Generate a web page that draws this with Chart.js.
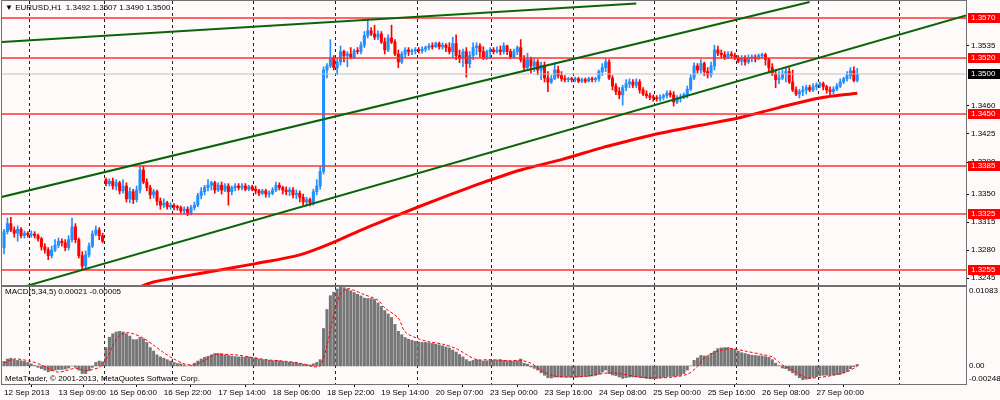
<!DOCTYPE html>
<html>
<head>
<meta charset="utf-8">
<script src="https://cdn.jsdelivr.net/npm/chart.js@4.4.0/dist/chart.umd.min.js"></script>
<style>
  body { margin: 0; background: #fffafa; }
  #wrap { position: relative; width: 1000px; height: 400px; }
  canvas { position: absolute; left: 0; }
  #main { top: 0; }
  #macd { top: 286px; }
</style>
</head>
<body>
<div id="wrap">
  <canvas id="main" width="1000" height="286"></canvas>
  <canvas id="macd" width="1000" height="114"></canvas>
</div>
<script>
// EURUSD H1 candles, one entry per bar (12 Sep 2013 16:00 .. 27 Sep 2013)
const opens = [
  1.3283,1.3303,1.3313,1.3305,1.3301,1.3306,1.3298,1.3301,1.3299,1.3300,
  1.3298,1.3294,1.3284,1.3280,1.3273,1.3280,1.3286,1.3291,1.3289,1.3283,
  1.3293,1.3309,1.3293,1.3273,1.3260,1.3274,1.3285,1.3300,1.3305,1.3298,
  1.3368,1.3363,1.3366,1.3360,1.3364,1.3354,1.3360,1.3344,1.3353,1.3343,
  1.3355,1.3380,1.3365,1.3358,1.3349,1.3353,1.3341,1.3336,1.3339,1.3334,
  1.3336,1.3334,1.3333,1.3329,1.3331,1.3326,1.3333,1.3336,1.3348,1.3353,
  1.3358,1.3361,1.3364,1.3355,1.3361,1.3355,1.3360,1.3353,1.3358,1.3360,
  1.3358,1.3360,1.3356,1.3359,1.3356,1.3354,1.3351,1.3354,1.3350,1.3351,
  1.3355,1.3361,1.3358,1.3355,1.3353,1.3355,1.3349,1.3351,1.3346,1.3340,
  1.3343,1.3339,1.3353,1.3360,1.3378,1.3505,1.3510,1.3520,1.3508,1.3515,
  1.3528,1.3523,1.3525,1.3521,1.3529,1.3528,1.3536,1.3548,1.3554,1.3550,
  1.3546,1.3550,1.3540,1.3530,1.3545,1.3540,1.3525,1.3515,1.3525,1.3530,
  1.3528,1.3529,1.3530,1.3529,1.3531,1.3533,1.3535,1.3534,1.3538,1.3534,
  1.3536,1.3533,1.3528,1.3538,1.3523,1.3520,1.3528,1.3513,1.3523,1.3533,
  1.3535,1.3528,1.3520,1.3528,1.3530,1.3528,1.3530,1.3528,1.3535,1.3528,
  1.3521,1.3528,1.3533,1.3518,1.3508,1.3518,1.3510,1.3515,1.3505,1.3511,
  1.3495,1.3490,1.3494,1.3505,1.3498,1.3494,1.3493,1.3494,1.3493,1.3494,
  1.3491,1.3493,1.3491,1.3494,1.3493,1.3494,1.3503,1.3508,1.3515,1.3495,
  1.3485,1.3478,1.3474,1.3483,1.3488,1.3490,1.3486,1.3490,1.3480,1.3475,
  1.3473,1.3471,1.3470,1.3469,1.3471,1.3473,1.3476,1.3474,1.3465,1.3470,
  1.3471,1.3474,1.3481,1.3495,1.3510,1.3505,1.3513,1.3503,1.3499,1.3510,
  1.3530,1.3526,1.3524,1.3520,1.3525,1.3523,1.3520,1.3516,1.3520,1.3515,
  1.3520,1.3521,1.3519,1.3523,1.3524,1.3518,1.3508,1.3500,1.3493,1.3495,
  1.3500,1.3503,1.3490,1.3480,1.3475,1.3478,1.3480,1.3483,1.3480,1.3484,
  1.3486,1.3488,1.3484,1.3480,1.3478,1.3481,1.3485,1.3490,1.3494,1.3498,
  1.3504,1.3492
];
const highs = [
  1.3306,1.3320,1.3321,1.3309,1.3310,1.3308,1.3304,1.3303,1.3304,1.3303,
  1.3300,1.3296,1.3288,1.3283,1.3285,1.3293,1.3295,1.3294,1.3293,1.3298,
  1.3320,1.3313,1.3295,1.3278,1.3279,1.3289,1.3304,1.3310,1.3308,1.3301,
  1.3370,1.3369,1.3370,1.3368,1.3366,1.3368,1.3364,1.3358,1.3356,1.3360,
  1.3385,1.3385,1.3369,1.3361,1.3356,1.3355,1.3345,1.3344,1.3341,1.3339,
  1.3338,1.3336,1.3335,1.3334,1.3334,1.3336,1.3340,1.3351,1.3358,1.3361,
  1.3368,1.3366,1.3366,1.3364,1.3365,1.3363,1.3363,1.3360,1.3363,1.3363,
  1.3363,1.3363,1.3361,1.3361,1.3360,1.3356,1.3356,1.3356,1.3354,1.3358,
  1.3365,1.3364,1.3360,1.3359,1.3358,1.3358,1.3355,1.3354,1.3350,1.3346,
  1.3345,1.3356,1.3368,1.3384,1.3509,1.3513,1.3543,1.3523,1.3519,1.3535,
  1.3530,1.3528,1.3533,1.3531,1.3533,1.3540,1.3553,1.3569,1.3558,1.3561,
  1.3554,1.3553,1.3545,1.3549,1.3561,1.3543,1.3530,1.3528,1.3533,1.3533,
  1.3531,1.3533,1.3533,1.3534,1.3535,1.3538,1.3539,1.3540,1.3540,1.3539,
  1.3538,1.3539,1.3546,1.3549,1.3530,1.3531,1.3533,1.3528,1.3539,1.3539,
  1.3538,1.3534,1.3530,1.3533,1.3533,1.3534,1.3535,1.3539,1.3536,1.3531,
  1.3531,1.3535,1.3543,1.3523,1.3526,1.3521,1.3519,1.3518,1.3515,1.3515,
  1.3503,1.3498,1.3514,1.3510,1.3503,1.3498,1.3496,1.3496,1.3496,1.3496,
  1.3495,1.3495,1.3496,1.3496,1.3496,1.3505,1.3513,1.3519,1.3518,1.3498,
  1.3488,1.3483,1.3486,1.3493,1.3494,1.3493,1.3494,1.3493,1.3483,1.3479,
  1.3476,1.3474,1.3473,1.3474,1.3475,1.3479,1.3479,1.3478,1.3473,1.3475,
  1.3476,1.3485,1.3499,1.3514,1.3513,1.3518,1.3515,1.3508,1.3515,1.3536,
  1.3535,1.3530,1.3528,1.3528,1.3528,1.3526,1.3523,1.3523,1.3523,1.3524,
  1.3524,1.3524,1.3525,1.3526,1.3526,1.3520,1.3513,1.3505,1.3503,1.3505,
  1.3508,1.3508,1.3505,1.3484,1.3481,1.3485,1.3486,1.3486,1.3488,1.3489,
  1.3490,1.3490,1.3486,1.3484,1.3484,1.3488,1.3494,1.3496,1.3503,1.3508,
  1.3509,1.3507
];
const lows = [
  1.3275,1.3300,1.3303,1.3296,1.3291,1.3295,1.3295,1.3296,1.3296,1.3295,
  1.3291,1.3280,1.3276,1.3268,1.3270,1.3278,1.3283,1.3285,1.3279,1.3280,
  1.3290,1.3289,1.3270,1.3255,1.3256,1.3271,1.3283,1.3298,1.3293,1.3289,
  1.3360,1.3360,1.3356,1.3355,1.3350,1.3351,1.3340,1.3339,1.3338,1.3340,
  1.3351,1.3363,1.3354,1.3344,1.3345,1.3336,1.3331,1.3333,1.3331,1.3331,
  1.3330,1.3330,1.3326,1.3325,1.3323,1.3324,1.3330,1.3334,1.3344,1.3349,
  1.3354,1.3355,1.3351,1.3353,1.3350,1.3353,1.3336,1.3349,1.3354,1.3355,
  1.3355,1.3354,1.3354,1.3354,1.3350,1.3348,1.3349,1.3346,1.3346,1.3349,
  1.3353,1.3355,1.3350,1.3349,1.3348,1.3345,1.3344,1.3340,1.3336,1.3335,
  1.3335,1.3336,1.3349,1.3356,1.3375,1.3495,1.3508,1.3505,1.3499,1.3511,
  1.3515,1.3509,1.3519,1.3519,1.3525,1.3525,1.3533,1.3545,1.3548,1.3543,
  1.3543,1.3538,1.3525,1.3528,1.3538,1.3523,1.3508,1.3513,1.3521,1.3523,
  1.3524,1.3525,1.3526,1.3526,1.3528,1.3530,1.3531,1.3533,1.3531,1.3531,
  1.3528,1.3525,1.3520,1.3518,1.3514,1.3509,1.3496,1.3508,1.3518,1.3524,
  1.3521,1.3518,1.3518,1.3519,1.3525,1.3526,1.3524,1.3525,1.3524,1.3519,
  1.3520,1.3524,1.3515,1.3505,1.3505,1.3501,1.3503,1.3499,1.3493,1.3490,
  1.3478,1.3488,1.3493,1.3495,1.3491,1.3490,1.3490,1.3490,1.3490,1.3489,
  1.3489,1.3489,1.3490,1.3490,1.3490,1.3491,1.3498,1.3503,1.3493,1.3480,
  1.3474,1.3469,1.3461,1.3479,1.3483,1.3483,1.3483,1.3476,1.3473,1.3470,
  1.3468,1.3466,1.3466,1.3466,1.3468,1.3470,1.3471,1.3460,1.3463,1.3465,
  1.3469,1.3470,1.3479,1.3493,1.3501,1.3501,1.3498,1.3495,1.3496,1.3505,
  1.3523,1.3520,1.3518,1.3519,1.3520,1.3518,1.3514,1.3511,1.3511,1.3513,
  1.3515,1.3515,1.3518,1.3520,1.3511,1.3503,1.3498,1.3483,1.3488,1.3493,
  1.3490,1.3488,1.3478,1.3473,1.3470,1.3473,1.3475,1.3478,1.3478,1.3480,
  1.3483,1.3480,1.3476,1.3474,1.3475,1.3479,1.3483,1.3488,1.3491,1.3494,
  1.3490,1.3490
];
const closes = [
  1.3303,1.3313,1.3305,1.3301,1.3306,1.3298,1.3301,1.3299,1.3300,1.3298,
  1.3294,1.3284,1.3280,1.3273,1.3280,1.3286,1.3291,1.3289,1.3283,1.3293,
  1.3309,1.3293,1.3273,1.3260,1.3274,1.3285,1.3300,1.3305,1.3298,1.3291,
  1.3363,1.3366,1.3360,1.3364,1.3354,1.3360,1.3344,1.3353,1.3343,1.3355,
  1.3380,1.3365,1.3358,1.3349,1.3353,1.3341,1.3336,1.3339,1.3334,1.3336,
  1.3334,1.3333,1.3329,1.3331,1.3326,1.3333,1.3336,1.3348,1.3353,1.3358,
  1.3361,1.3364,1.3355,1.3361,1.3355,1.3360,1.3353,1.3358,1.3360,1.3358,
  1.3360,1.3356,1.3359,1.3356,1.3354,1.3351,1.3354,1.3350,1.3351,1.3355,
  1.3361,1.3358,1.3355,1.3353,1.3355,1.3349,1.3351,1.3346,1.3340,1.3343,
  1.3339,1.3353,1.3360,1.3378,1.3505,1.3510,1.3520,1.3508,1.3515,1.3528,
  1.3523,1.3525,1.3521,1.3529,1.3528,1.3536,1.3548,1.3554,1.3550,1.3546,
  1.3550,1.3540,1.3530,1.3545,1.3540,1.3525,1.3515,1.3525,1.3530,1.3528,
  1.3529,1.3530,1.3529,1.3531,1.3533,1.3535,1.3534,1.3538,1.3534,1.3536,
  1.3533,1.3528,1.3538,1.3523,1.3520,1.3528,1.3513,1.3523,1.3533,1.3535,
  1.3528,1.3520,1.3528,1.3530,1.3528,1.3530,1.3528,1.3535,1.3528,1.3521,
  1.3528,1.3533,1.3518,1.3508,1.3518,1.3510,1.3515,1.3505,1.3511,1.3495,
  1.3490,1.3494,1.3505,1.3498,1.3494,1.3493,1.3494,1.3493,1.3494,1.3491,
  1.3493,1.3491,1.3494,1.3493,1.3494,1.3503,1.3508,1.3515,1.3495,1.3485,
  1.3478,1.3474,1.3483,1.3488,1.3490,1.3486,1.3490,1.3480,1.3475,1.3473,
  1.3471,1.3470,1.3469,1.3471,1.3473,1.3476,1.3474,1.3465,1.3470,1.3471,
  1.3474,1.3481,1.3495,1.3510,1.3505,1.3513,1.3503,1.3499,1.3510,1.3530,
  1.3526,1.3524,1.3520,1.3525,1.3523,1.3520,1.3516,1.3520,1.3515,1.3520,
  1.3521,1.3519,1.3523,1.3524,1.3518,1.3508,1.3500,1.3493,1.3495,1.3500,
  1.3503,1.3490,1.3480,1.3475,1.3478,1.3480,1.3483,1.3480,1.3484,1.3486,
  1.3488,1.3484,1.3480,1.3478,1.3481,1.3485,1.3490,1.3494,1.3498,1.3504,
  1.3492,1.3500
];

// moving average (red thick line), read at a few bars
const maBars   = [40, 44, 50, 58, 74, 87, 96, 105, 116, 128, 140, 152, 164, 176, 187, 193, 205, 216, 228, 240, 251];
const maValues = [1.3234, 1.3240, 1.3245, 1.3251, 1.3263, 1.3274, 1.3288, 1.3305, 1.3324, 1.3344, 1.3363,
                  1.3380, 1.3393, 1.3408, 1.3420, 1.3426, 1.3436, 1.3445, 1.3458, 1.3470, 1.3476];

// horizontal levels and trend lines drawn on the chart
const levels = [1.3570, 1.3520, 1.3450, 1.3385, 1.3325, 1.3255];
const trendBars   = [[-1, 186], [-1, 237], [0, 283]];
const trendPrices = [[1.3540, 1.3588], [1.3346, 1.3590], [1.3227, 1.3573]];

// price axis ticks
const priceTicks = [1.3535, 1.3460, 1.3425, 1.3390, 1.3350, 1.3315, 1.3280, 1.3245];

// MACD(5,34,5) histogram, one value per bar
const macdHist = [
  0.00062,0.00095,0.00105,0.00086,0.00076,0.00071,0.00062,0.00048,0.00029,0.00005,
  -0.00019,-0.00038,-0.00057,-0.00081,-0.00067,-0.00057,-0.00048,-0.00048,-0.00043,-0.00029,
  0,-0.00019,-0.00057,-0.00105,-0.00105,-0.00067,-0.00019,0.00048,0.00067,0.00057,
  0.00252,0.00394,0.00442,0.00466,0.00475,0.00466,0.00442,0.00409,0.00361,0.00361,
  0.00390,0.00371,0.00323,0.00252,0.00204,0.00152,0.00124,0.00105,0.00086,0.00067,
  0.00048,0.00033,0.00029,0.00014,0,0.00010,0.00038,0.00067,0.00095,0.00119,
  0.00133,0.00152,0.00171,0.00171,0.00166,0.00152,0.00143,0.00133,0.00128,0.00124,
  0.00124,0.00119,0.00124,0.00114,0.00109,0.00095,0.00086,0.00086,0.00076,0.00071,
  0.00076,0.00071,0.00062,0.00057,0.00052,0.00048,0.00043,0.00033,0.00024,0.00019,
  0.00014,0.00029,0.00048,0.00086,0.00513,0.00774,0.00964,0.01012,0.01055,0.01083,
  0.01074,0.01055,0.01031,0.01007,0.00983,0.00960,0.00931,0.00926,0.00926,0.00912,
  0.00865,0.00817,0.00760,0.00713,0.00665,0.00570,0.00475,0.00428,0.00390,0.00366,
  0.00352,0.00337,0.00328,0.00323,0.00323,0.00318,0.00309,0.00299,0.00290,0.00276,
  0.00261,0.00247,0.00219,0.00190,0.00157,0.00124,0.00086,0.00062,0.00076,0.00086,
  0.00076,0.00067,0.00071,0.00076,0.00076,0.00081,0.00086,0.00076,0.00071,0.00067,
  0.00067,0.00071,0.00095,0.00038,0.00024,-0.00014,-0.00033,-0.00057,-0.00095,-0.00128,
  -0.00162,-0.00166,-0.00152,-0.00152,-0.00152,-0.00152,-0.00152,-0.00152,-0.00152,-0.00152,
  -0.00147,-0.00143,-0.00143,-0.00138,-0.00128,-0.00114,-0.00086,-0.00057,-0.00105,-0.00124,
  -0.00133,-0.00152,-0.00171,-0.00162,-0.00152,-0.00152,-0.00152,-0.00157,-0.00162,-0.00171,
  -0.00176,-0.00176,-0.00171,-0.00162,-0.00157,-0.00147,-0.00143,-0.00143,-0.00138,-0.00128,
  -0.00105,-0.00057,0,0.00076,0.00109,0.00143,0.00138,0.00128,0.00171,0.00204,
  0.00238,0.00247,0.00252,0.00252,0.00238,0.00228,0.00204,0.00181,0.00171,0.00157,
  0.00147,0.00143,0.00138,0.00138,0.00128,0.00119,0.00086,0.00038,0.00005,-0.00029,
  -0.00038,-0.00067,-0.00095,-0.00128,-0.00162,-0.00190,-0.00181,-0.00171,-0.00157,-0.00147,
  -0.00133,-0.00128,-0.00128,-0.00128,-0.00124,-0.00119,-0.00114,-0.00095,-0.00076,-0.00038,
  -0.00010,0.00021
];
// MACD signal line (red dotted), read at a few bars
const signalBars = [0, 3, 8, 11, 14, 16, 18, 21, 24, 26, 28, 30, 32, 34, 36, 38, 41, 44, 47, 50,
  53, 56, 59, 62, 68, 72, 77, 82, 87, 91, 93, 95, 97, 99, 101, 103, 106, 110, 112, 116,
  118, 122, 125, 129, 133, 136, 139, 143, 149, 152, 155, 158, 161, 165, 171, 175, 178, 182, 187, 192,
  197, 201, 204, 206, 210, 214, 218, 223, 226, 229, 232, 236, 239, 244, 248, 251];
const signalValues = [0.00038, 0.00095, 0.00062, 0.00014, -0.00057, -0.00086, -0.00067, -0.00033, -0.00067, -0.00048,
  -0.00019, 0.00086, 0.00276, 0.00418, 0.00456, 0.00442, 0.00380, 0.00285, 0.00181, 0.00095,
  0.00029, 0.00014, 0.00076, 0.00152, 0.00152, 0.00124, 0.00086, 0.00067, 0.00038, -0.00010,
  0, 0.00276, 0.00703, 0.00988, 0.01059, 0.01036, 0.00979, 0.00903, 0.00798, 0.00656,
  0.00466, 0.00371, 0.00333, 0.00299, 0.00238, 0.00157, 0.00086, 0.00086, 0.00071, 0.00076,
  0.00038, -0.00057, -0.00128, -0.00152, -0.00143, -0.00114, -0.00095, -0.00114, -0.00152, -0.00166,
  -0.00152, -0.00114, -0.00010, 0.00109, 0.00204, 0.00238, 0.00204, 0.00157, 0.00124, 0.00014,
  -0.00057, -0.00162, -0.00162, -0.00128, -0.00081, -0.00005];
const macdTicks = [0.01083, 0, -0.00248];

// time axis
const timeLabels = ['12 Sep 2013', '13 Sep 09:00', '16 Sep 06:00', '16 Sep 22:00', '17 Sep 14:00',
  '18 Sep 06:00', '18 Sep 22:00', '19 Sep 14:00', '20 Sep 07:00', '23 Sep 00:00', '23 Sep 16:00',
  '24 Sep 08:00', '25 Sep 00:00', '25 Sep 16:00', '26 Sep 08:00', '27 Sep 00:00'];
const labelBars = [0, 16, 31, 47, 63, 79, 95, 111, 127, 143, 159, 175, 191, 207, 223, 239];
const gridBars = [7.5, 29.5, 49.5, 73.5, 97.5, 121.5, 143.5, 167.5, 191.5, 215.5, 239.5, 263.5];

const FONT_FAMILY = '"Liberation Sans", Arial, sans-serif';
const BULL = '#1e90ff';
const BEAR = '#ff0000';
const X_MIN = -0.6, X_MAX = 283;

Chart.defaults.font.family = FONT_FAMILY;
Chart.defaults.font.size = 8;
Chart.defaults.color = '#000';
Chart.defaults.animation = false;

const barIdx = closes.map((_, i) => i);
const last = closes.length - 1;
const candleColor = barIdx.map(i => closes[i] >= opens[i] ? BULL : BEAR);

// vertical dotted grid shared by both panels
function gridAxis(position) {
  return {
    type: 'linear', position: position, min: X_MIN, max: X_MAX, offset: false,
    afterBuildTicks: s => { s.ticks = gridBars.map(v => ({ value: v })); },
    ticks: { display: false },
    grid: { offset: false, color: '#202020', lineWidth: 1, drawTicks: false },
    border: { display: false, dash: [3, 3] }
  };
}

const frame = {
  id: 'frame',
  afterDraw(chart) {
    const { ctx, chartArea: a } = chart;
    ctx.save();
    ctx.strokeStyle = '#707070';
    ctx.lineWidth = 1;
    ctx.strokeRect(a.left - 0.5, a.top - 0.5, a.right - a.left + 1, a.bottom - a.top + 1);
    ctx.restore();
  }
};

const priceTags = {
  id: 'priceTags',
  afterDraw(chart) {
    const { ctx, chartArea: a, scales: { y } } = chart;
    ctx.save();
    ctx.font = '8px ' + FONT_FAMILY;
    ctx.textBaseline = 'middle';
    const tags = levels.map(v => [v, '#ff0000']).concat([[closes[last], '#000000']]);
    tags.forEach(([v, c]) => {
      const py = Math.round(y.getPixelForValue(v));
      ctx.fillStyle = c;
      ctx.fillRect(a.right + 2, py - 5, 33, 10);
      ctx.fillStyle = '#ffffff';
      ctx.fillText(v.toFixed(4), a.right + 5, py);
    });
    ctx.restore();
  }
};

const mainCaption = {
  id: 'mainCaption',
  afterDraw(chart) {
    const { ctx, chartArea: a } = chart;
    const ohlc = [opens[last], highs[last], lows[last], closes[last]].map(v => v.toFixed(4)).join(' ');
    ctx.save();
    ctx.font = '8px ' + FONT_FAMILY;
    ctx.fillStyle = '#000';
    ctx.textBaseline = 'middle';
    ctx.fillText('\u25BC EURUSD,H1  ' + ohlc, a.left + 3, a.top + 7);
    ctx.restore();
  }
};

const levelSets = levels.map(v => ({
  type: 'line', data: [{ x: X_MIN, y: v }, { x: X_MAX, y: v }],
  borderColor: '#ff3030', borderWidth: 1.5, pointRadius: 0, order: 3
}));
levelSets.push({
  type: 'line', data: [{ x: X_MIN, y: closes[last] }, { x: X_MAX, y: closes[last] }],
  borderColor: '#c0c0c0', borderWidth: 1, pointRadius: 0, order: 4
});
const trendSets = trendBars.map((b, k) => ({
  type: 'line', data: [{ x: b[0], y: trendPrices[k][0] }, { x: b[1], y: trendPrices[k][1] }],
  borderColor: '#0a640a', borderWidth: 2, pointRadius: 0, order: 2
}));

new Chart(document.getElementById('main'), {
  type: 'bar',
  data: {
    datasets: [
      {
        type: 'bar', data: barIdx.map(i => ({ x: i, y: [lows[i], highs[i]] })),
        backgroundColor: candleColor, barThickness: 1, grouped: false, order: 10
      },
      {
        type: 'bar', data: barIdx.map(i => ({ x: i, y: [opens[i], closes[i]] })),
        backgroundColor: candleColor, barThickness: 2.4, minBarLength: 1, grouped: false, order: 9
      },
      {
        type: 'line', data: maBars.map((b, k) => ({ x: b, y: maValues[k] })),
        borderColor: '#ff0000', borderWidth: 3, pointRadius: 0, tension: 0.3, order: 5
      },
      ...levelSets,
      ...trendSets
    ]
  },
  options: {
    responsive: false,
    layout: { padding: { left: 2, top: 1, right: 0, bottom: 1 } },
    plugins: { legend: { display: false }, tooltip: { enabled: false } },
    scales: {
      x: gridAxis('bottom'),
      y: {
        type: 'linear', position: 'right', min: 1.32363, max: 1.35912,
        afterBuildTicks: s => { s.ticks = priceTicks.map(v => ({ value: v })); },
        afterFit: s => { s.width = 34; s.paddingTop = 0; s.paddingBottom = 0; },
        ticks: { padding: 2, callback: v => v.toFixed(4) },
        grid: { drawOnChartArea: false, drawTicks: true, tickLength: 3, tickColor: '#000' },
        border: { display: false }
      }
    }
  },
  plugins: [frame, priceTags, mainCaption]
});

const macdAxisLabels = {
  id: 'macdAxisLabels',
  afterDraw(chart) {
    const { ctx, chartArea: a, scales: { y } } = chart;
    ctx.save();
    ctx.font = '8px ' + FONT_FAMILY;
    ctx.fillStyle = '#000';
    ctx.textBaseline = 'middle';
    macdTicks.forEach(v => {
      const py = Math.min(Math.max(y.getPixelForValue(v), a.top + 4), a.bottom - 5);
      ctx.fillText(v === 0 ? '0.00' : v.toFixed(5), a.right + 3, py);
    });
    ctx.restore();
  }
};

const macdCaption = {
  id: 'macdCaption',
  afterDraw(chart) {
    const { ctx, chartArea: a } = chart;
    ctx.save();
    ctx.font = '8px ' + FONT_FAMILY;
    ctx.fillStyle = '#000';
    ctx.textBaseline = 'middle';
    ctx.fillText('MACD(5,34,5) ' + macdHist[last].toFixed(5) + ' ' +
      signalValues[signalValues.length - 1].toFixed(5), a.left + 3, a.top + 5);
    ctx.fillText('MetaTrader, \u00A9 2001-2013, MetaQuotes Software Corp.', a.left + 3, a.bottom - 5);
    ctx.restore();
  }
};

new Chart(document.getElementById('macd'), {
  type: 'bar',
  data: {
    datasets: [
      {
        type: 'bar', data: barIdx.map(i => ({ x: i, y: macdHist[i] })),
        backgroundColor: '#767676', barThickness: 2.4, grouped: false, order: 2
      },
      {
        type: 'line', data: signalBars.map((b, k) => ({ x: b, y: signalValues[k] })),
        borderColor: '#ff0000', borderWidth: 1, borderDash: [3, 2], pointRadius: 0, tension: 0.3, order: 1
      }
    ]
  },
  options: {
    responsive: false,
    layout: { padding: { left: 2, top: 1, right: 0, bottom: 0 } },
    plugins: { legend: { display: false }, tooltip: { enabled: false } },
    scales: {
      x: gridAxis('top'),
      xl: {
        type: 'linear', position: 'bottom', min: X_MIN, max: X_MAX, offset: false,
        afterBuildTicks: s => { s.ticks = labelBars.map(v => ({ value: v })); },
        afterFit: s => { s.height = 16; s.paddingLeft = 0; s.paddingRight = 0; },
        ticks: { align: 'start', autoSkip: false, maxRotation: 0, padding: 1, callback: (v, i) => timeLabels[i] },
        grid: { drawOnChartArea: false, drawTicks: true, tickLength: 3, tickColor: '#000' },
        border: { display: false }
      },
      y: {
        type: 'linear', position: 'right', min: -0.00248, max: 0.01083,
        afterFit: s => { s.width = 34; s.paddingTop = 0; s.paddingBottom = 0; },
        ticks: { display: false },
        grid: { display: false },
        border: { display: false }
      }
    }
  },
  plugins: [frame, macdAxisLabels, macdCaption]
});
</script>
</body>
</html>
